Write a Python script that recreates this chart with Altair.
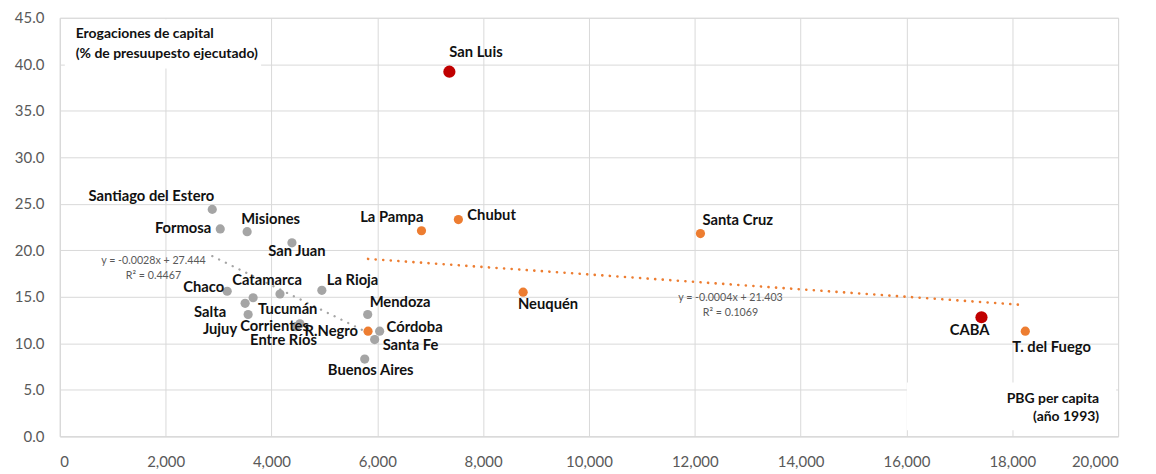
import altair as alt
import pandas as pd

# ---------------- data ----------------
names = ["Santiago del Estero", "Formosa", "Misiones", "San Juan", "Chaco", "Tucumán",
         "Salta", "Jujuy", "Catamarca", "La Rioja", "Corrientes", "Entre Ríos",
         "Mendoza", "Córdoba", "Santa Fe", "Buenos Aires",
         "R.Negro", "La Pampa", "Chubut", "Santa Cruz", "Neuquén", "T. del Fuego",
         "CABA", "San Luis"]
pbg = [2881, 3032, 3540, 4387, 3163, 3653,
       3502, 3559, 4161, 4952, 4538, 4463,
       5818, 6044, 5950, 5762,
       5825, 6835, 7532, 12107, 8756, 18246,
       17418, 7362]
erog = [24.4, 22.3, 22.0, 20.8, 15.6, 14.9,
        14.3, 13.1, 15.3, 15.7, 12.1, 11.8,
        13.1, 11.3, 10.4, 8.3,
        11.3, 22.1, 23.3, 21.8, 15.5, 11.3,
        12.8, 39.2]
grupo = ["gris"] * 16 + ["naranja"] * 6 + ["rojo"] * 2

trend_groups = ["gris", "naranja"]
trend_slope = [-0.0028, -0.0004]
trend_intercept = [27.444, 21.403]
trend_r2 = ["0.4467", "0.1069"]

x_ticks = list(range(0, 20001, 2000))
y_ticks = [0, 5, 10, 15, 20, 25, 30, 35, 40, 45]

# ---------------- tables ----------------
df = pd.DataFrame({"name": names, "pbg": pbg, "erog": erog, "grupo": grupo})

rows = []
for g, m, b in zip(trend_groups, trend_slope, trend_intercept):
    sub = df[df.grupo == g]
    for xv in (sub.pbg.min(), sub.pbg.max()):
        rows.append({"grupo": g, "pbg": xv, "erog": m * xv + b})
trend_df = pd.DataFrame(rows)

COLORS = {"gris": "#A5A5A5", "naranja": "#ED7D31", "rojo": "#C00000"}
FONT = "Lato"

xs = alt.Scale(domain=[0, 20000], nice=False)
ys = alt.Scale(domain=[0, 45], nice=False)

x_enc = alt.X("pbg:Q", scale=xs, axis=alt.Axis(
    values=x_ticks, title=None,
    labelExpr="datum.value >= 1000 ? floor(datum.value / 1000) + ',000' : '0'",
    labelPadding=18, labelFontSize=15, labelColor="#595959", labelFont=FONT,
    ticks=False, domainColor="#D9D9D9", gridColor="#D9D9D9"))
y_enc = alt.Y("erog:Q", scale=ys, axis=alt.Axis(
    values=y_ticks, format=".1f", title=None,
    labelPadding=16, labelFontSize=15, labelColor="#595959", labelFont=FONT,
    ticks=False, domainColor="#D9D9D9", gridColor="#D9D9D9"))

layers = []

# white annotation boxes
layers.append(alt.Chart(df.head(1)).mark_rect(color="white").encode(
    x=alt.value(5), x2=alt.value(202), y=alt.value(1.5), y2=alt.value(51)))
layers.append(alt.Chart(df.head(1)).mark_rect(color="white").encode(
    x=alt.value(850), x2=alt.value(1060), y=alt.value(366), y2=alt.value(414)))

# trend lines
for g in trend_groups:
    layers.append(alt.Chart(trend_df).transform_filter(alt.datum.grupo == g)
                  .mark_line(color=COLORS[g], strokeWidth=2.6 if g == "naranja" else 2.3,
                             strokeDash=[0.1, 7.5], strokeCap="round")
                  .encode(x=x_enc, y=y_enc))

# points
for g, size in (("gris", 85), ("naranja", 85), ("rojo", 150)):
    layers.append(alt.Chart(df).transform_filter(alt.datum.grupo == g)
                  .mark_circle(color=COLORS[g], opacity=1, size=size)
                  .encode(x=x_enc, y=y_enc))

# point labels: (align, dx, dy)
label_pos = {
    "Santiago del Estero": ("right", 2, -12),
    "Formosa": ("right", -9, 0),
    "Misiones": ("left", -6, -12),
    "San Juan": ("center", 5, 9),
    "Chaco": ("right", -3, -3),
    "Catamarca": ("center", -13, -13),
    "Tucumán": ("left", 5, 12),
    "Salta": ("right", -19, 10),
    "Jujuy": ("right", -11, 16),
    "Corrientes": ("right", 9, 3),
    "Entre Ríos": ("right", 21, 15),
    "La Rioja": ("left", 5, -9),
    "Mendoza": ("left", 2, -11),
    "Córdoba": ("left", 7, -3),
    "Santa Fe": ("left", 8, 6),
    "Buenos Aires": ("center", 6, 12),
    "R.Negro": ("right", -10, 1),
    "La Pampa": ("right", 2, -13),
    "Chubut": ("left", 9, -4),
    "Santa Cruz": ("left", 2, -13),
    "Neuquén": ("center", 25, 13),
    "T. del Fuego": ("left", -13, 17),
    "CABA": ("center", -12, 14),
    "San Luis": ("left", 0, -19),
}
for n in names:
    al, dx, dy = label_pos[n]
    layers.append(alt.Chart(df).transform_filter(alt.datum.name == n)
                  .mark_text(align=al, baseline="middle", dx=dx, dy=dy, font=FONT,
                             fontWeight="bold", fontSize=14.8, color="#111111")
                  .encode(x=x_enc, y=y_enc, text="name:N"))

# trend equations
eq_df = pd.DataFrame({
    "grupo": trend_groups,
    "eq": [f"y = {m}x + {b}" for m, b in zip(trend_slope, trend_intercept)],
    "r2": [f"R² = {r}" for r in trend_r2],
})
eq_pos = {"gris": (94, 244), "naranja": (673, 281)}
for g in trend_groups:
    px, py = eq_pos[g]
    base = alt.Chart(eq_df).transform_filter(alt.datum.grupo == g)
    layers.append(base.mark_text(align="center", baseline="middle", font=FONT, fontSize=10.7,
                                 color="#595959").encode(x=alt.value(px), y=alt.value(py), text="eq:N"))
    layers.append(base.mark_text(align="center", baseline="middle", font=FONT, fontSize=10.7,
                                 color="#595959").encode(x=alt.value(px), y=alt.value(py + 15), text="r2:N"))

# axis titles as annotations
titles_df = pd.DataFrame({"t": ["Erogaciones de capital", "(% de presuupesto ejecutado)",
                                "PBG per capita", "(año 1993)"]})
for i, (al, px, py) in enumerate([("left", 16, 16), ("left", 16, 36),
                                   ("right", 1043, 383), ("right", 1043, 401)]):
    layers.append(alt.Chart(titles_df).transform_filter(alt.datum.t == titles_df.t[i])
                  .mark_text(align=al, baseline="middle", font=FONT, fontWeight="bold",
                             fontSize=14, color="#111111")
                  .encode(x=alt.value(px), y=alt.value(py), text="t:N"))

chart = alt.layer(*layers).properties(
    width=1062, height=420,
    padding={"left": 52, "top": 9, "right": 30, "bottom": 36},
    autosize=alt.AutoSizeParams(type="none"),
).configure_view(stroke=None).configure(background="white")

chart.save("out.html", embed_options={"renderer": "svg", "actions": False})
